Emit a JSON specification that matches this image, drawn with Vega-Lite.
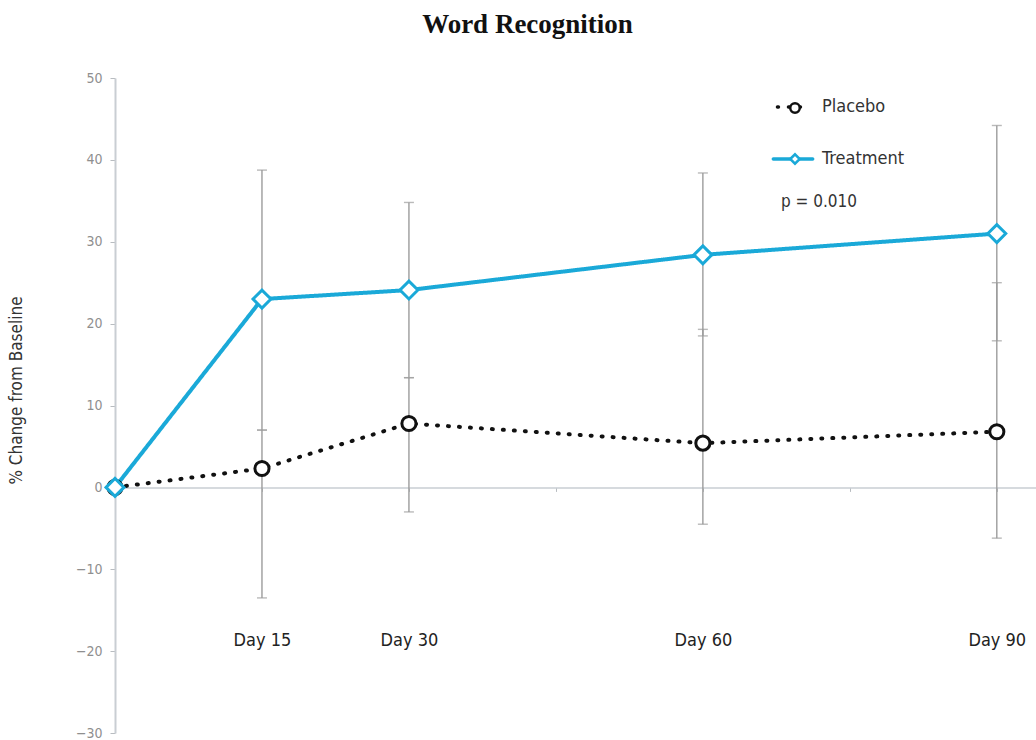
{
  "$schema": "https://vega.github.io/schema/vega-lite/v6.json",
  "width": 921,
  "height": 655,
  "autosize": {"type": "none"},
  "padding": {"left": 115, "top": 78, "right": 0, "bottom": 7},
  "background": "white",
  "title": {
    "text": "Word Recognition",
    "font": "Liberation Serif",
    "fontSize": 27,
    "fontWeight": "bold",
    "color": "#111111",
    "anchor": "middle",
    "frame": "group",
    "dx": -48,
    "offset": 32
  },
  "config": {
    "view": {"stroke": null},
    "font": "Liberation Sans Narrow, DejaVu Sans Condensed, sans-serif"
  },
  "datasets": {
    "means": [
      {"day": 0, "group": "Placebo", "value": 0},
      {"day": 15, "group": "Placebo", "value": 2.3},
      {"day": 30, "group": "Placebo", "value": 7.8},
      {"day": 60, "group": "Placebo", "value": 5.4},
      {"day": 90, "group": "Placebo", "value": 6.8},
      {"day": 0, "group": "Treatment", "value": 0},
      {"day": 15, "group": "Treatment", "value": 23.0},
      {"day": 30, "group": "Treatment", "value": 24.1},
      {"day": 60, "group": "Treatment", "value": 28.4},
      {"day": 90, "group": "Treatment", "value": 31.0}
    ],
    "spread": [
      {"day": 15, "group": "Placebo", "lo": -13.5, "hi": 7.0},
      {"day": 30, "group": "Placebo", "lo": -3.0, "hi": 13.4},
      {"day": 60, "group": "Placebo", "lo": -4.5, "hi": 19.3},
      {"day": 90, "group": "Placebo", "lo": -6.2, "hi": 25.0},
      {"day": 15, "group": "Treatment", "lo": 7.0, "hi": 38.75},
      {"day": 30, "group": "Treatment", "lo": 13.4, "hi": 34.8},
      {"day": 60, "group": "Treatment", "lo": 18.5, "hi": 38.4},
      {"day": 90, "group": "Treatment", "lo": 17.9, "hi": 44.2}
    ]
  },
  "layer": [
    {
      "data": {"name": "spread"},
      "mark": {"type": "rule", "color": "#9c9c9c", "strokeWidth": 1.4},
      "encoding": {
        "x": {
          "field": "day",
          "type": "quantitative",
          "scale": {"domain": [0, 94], "nice": false},
          "axis": {
            "orient": "bottom",
            "offset": -245.6,
            "title": null,
            "values": [15, 30, 45, 60, 75, 90],
            "grid": false,
            "domainColor": "#c9ced3",
            "domainWidth": 1.5,
            "tickColor": "#b8bcc0",
            "tickSize": 4,
            "labelExpr": "datum.value == 45 || datum.value == 75 ? '' : 'Day ' + datum.value",
            "labelFontSize": 18,
            "labelColor": "#222222",
            "labelPadding": 140
          }
        },
        "y": {
          "field": "lo",
          "type": "quantitative",
          "scale": {"domain": [-30, 50], "nice": false},
          "axis": {
            "title": "% Change from Baseline",
            "titleFontSize": 17,
            "titleFontWeight": "normal",
            "titleColor": "#333333",
            "titleY": 312,
            "titlePadding": 50,
            "values": [-30, -20, -10, 0, 10, 20, 30, 40, 50],
            "grid": false,
            "domainColor": "#c9ced3",
            "domainWidth": 2,
            "tickColor": "#b8bcc0",
            "tickSize": 5,
            "labelFontSize": 14,
            "labelColor": "#8f8f8f",
            "labelPadding": 8
          }
        },
        "y2": {"field": "hi"}
      }
    },
    {
      "data": {"name": "spread"},
      "transform": [{"fold": ["lo", "hi"], "as": ["end", "limit"]}],
      "mark": {"type": "tick", "orient": "horizontal", "color": "#9c9c9c", "size": 10, "thickness": 1.4},
      "encoding": {
        "x": {"field": "day", "type": "quantitative"},
        "y": {"field": "limit", "type": "quantitative"}
      }
    },
    {
      "data": {"name": "means"},
      "mark": {"type": "line", "strokeWidth": 4, "strokeCap": "round"},
      "encoding": {
        "x": {"field": "day", "type": "quantitative"},
        "y": {"field": "value", "type": "quantitative"},
        "color": {
          "field": "group",
          "type": "nominal",
          "scale": {"domain": ["Placebo", "Treatment"], "range": ["#111111", "#1aa9d8"]},
          "legend": {
            "title": "p = 0.010",
            "titleOrient": "bottom",
            "titleAnchor": "start",
            "titleFontSize": 17,
            "titleFontWeight": "normal",
            "titleColor": "#333333",
            "titlePadding": 26,
            "orient": "none",
            "legendX": 666,
            "legendY": 20,
            "symbolType": "M-2.2,0H2.2",
            "symbolStrokeWidth": 3.5,
            "labelFontSize": 18,
            "labelColor": "#333333",
            "labelOffset": 18,
            "rowPadding": 32,
            "encode": {
              "title": {"update": {"dx": {"value": -1}}},
              "symbols": {"update": {"strokeCap": {"value": "round"}}}
            }
          }
        },
        "strokeDash": {
          "field": "group",
          "type": "nominal",
          "scale": {"domain": ["Placebo", "Treatment"], "range": [[1, 10], [1, 0]]},
          "legend": {
            "title": "p = 0.010",
            "titleOrient": "bottom",
            "titleAnchor": "start",
            "titleFontSize": 17,
            "titleFontWeight": "normal",
            "titleColor": "#333333",
            "titlePadding": 26,
            "orient": "none",
            "legendX": 666,
            "legendY": 20,
            "symbolType": "M-2.2,0H2.2",
            "symbolStrokeWidth": 3.5,
            "labelFontSize": 18,
            "labelColor": "#333333",
            "labelOffset": 18,
            "rowPadding": 32,
            "encode": {
              "title": {"update": {"dx": {"value": -1}}},
              "symbols": {"update": {"strokeCap": {"value": "round"}}}
            }
          }
        }
      }
    },
    {
      "data": {"name": "means"},
      "mark": {"type": "point", "filled": false, "fill": "white", "strokeWidth": 3, "opacity": 1},
      "encoding": {
        "x": {"field": "day", "type": "quantitative"},
        "y": {"field": "value", "type": "quantitative"},
        "stroke": {
          "field": "group",
          "type": "nominal",
          "scale": {"range": ["#111111", "#1aa9d8"]},
          "legend": {
            "title": null,
            "orient": "none",
            "legendX": 674,
            "legendY": 24,
            "zindex": 2,
            "labelExpr": "''",
            "symbolSize": 90,
            "symbolStrokeWidth": 2.5,
            "rowPadding": 31,
            "encode": {"symbols": {"update": {"fill": {"value": "white"}}}}
          }
        },
        "shape": {
          "field": "group",
          "type": "nominal",
          "scale": {"range": ["circle", "diamond"]},
          "legend": {
            "title": null,
            "orient": "none",
            "legendX": 674,
            "legendY": 24,
            "zindex": 2,
            "labelExpr": "''",
            "symbolSize": 90,
            "symbolStrokeWidth": 2.5,
            "rowPadding": 31,
            "encode": {"symbols": {"update": {"fill": {"value": "white"}}}}
          }
        },
        "size": {
          "field": "group",
          "type": "nominal",
          "scale": {"domain": ["Placebo", "Treatment"], "range": [200, 320]},
          "legend": null
        }
      }
    }
  ]
}
